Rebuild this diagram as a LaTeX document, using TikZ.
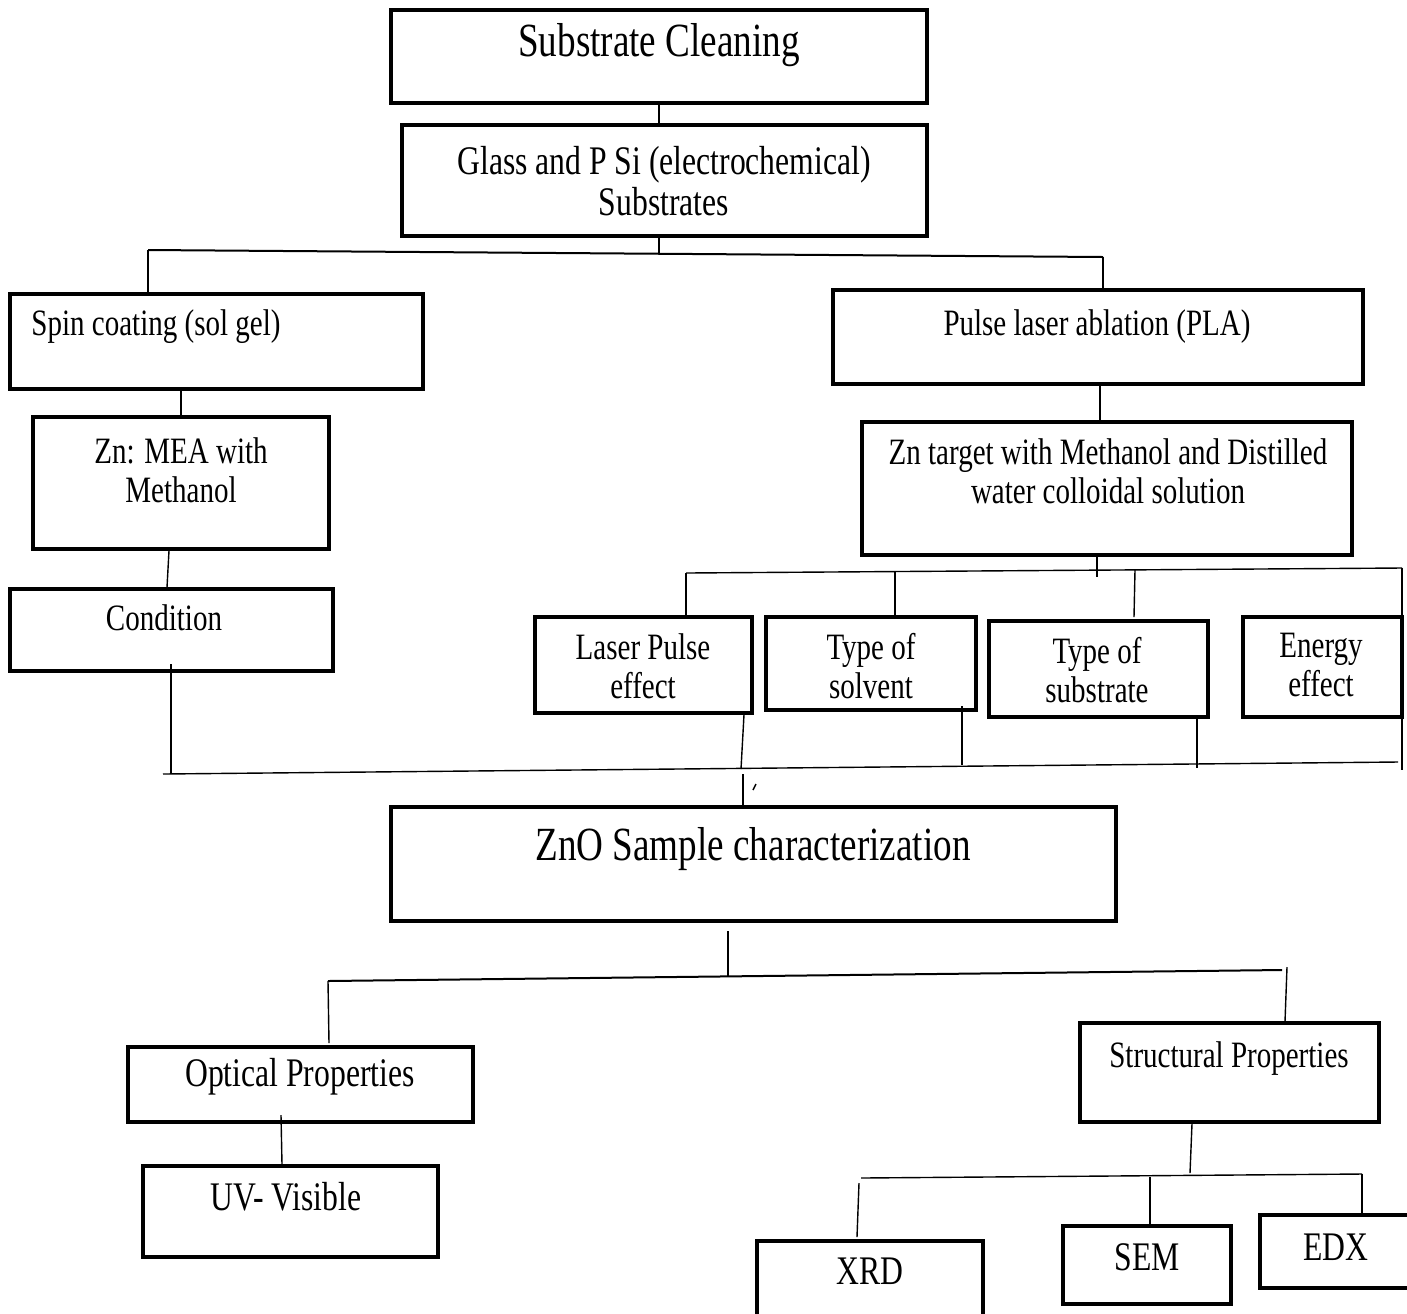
\documentclass[tikz,border=0pt]{standalone}
\usepackage{fontspec}
\setmainfont{Liberation Serif}[FakeStretch=0.78]
\usetikzlibrary{fit}
\tikzset{
  box/.style={draw, line width=1.6pt, inner sep=0pt},
  link/.style={line width=0.7pt},
  bus/.style={line width=1pt},
  txtl/.style={font=\fontsize{23.8}{28}\selectfont},
  txtm/.style={font=\fontsize{20.3}{20.5}\selectfont, align=center},
  txts/.style={font=\fontsize{18.6}{19.5}\selectfont, align=center}
}

\begin{document}
\begin{tikzpicture}[x=0.5pt, y=-0.5pt]
		\useasboundingbox (0,0) rectangle (1407,1313);
		\clip (0,0) rectangle (1407,1313);

		% preparation
		\node[box, fit={(391,10) (927,103)}] (clean) {};
		\node[txtl] (tclean) at (659,45) {Substrate Cleaning};
		\node[box, fit={(402,125) (927,236)}] (glass) {};
		\node[txtm] (tglass) at (664,181) {Glass and P Si (electrochemical)\\Substrates};
		\draw[link] (clean.south -| 659,0) -- (glass.north -| 659,0);

		\coordinate (b1l) at (148,250);
		\coordinate (b1r) at (1103,257);
		\draw[bus] (b1l) -- (b1r);
		\draw[link] (glass.south -| 659,0) -- (659,254);

		% spin coating branch
		\node[box, fit={(10,294) (423,389)}] (spin) {};
		\node[txts] (tspin) at (156,327) {Spin coating (sol gel)};
		\draw[link] (b1l) -- (b1l |- spin.north);
		\node[box, fit={(33,417) (329,549)}] (zn) {};
		\node[txts] (tzn) at (181,470) {Zn: MEA with\\Methanol};
		\draw[link] (spin.south -| 181,0) -- (zn.north -| 181,0);
		\node[box, fit={(10,589) (333,671)}] (cond) {};
		\node[txts] (tcond) at (164,618) {Condition};
		\draw[link] (zn.south -| 169,0) -- (cond.north -| 167,0);

		% laser ablation branch
		\node[box, fit={(833,290) (1363,384)}] (pla) {};
		\node[txts] (tpla) at (1097,327) {Pulse laser ablation (PLA)};
		\draw[link] (b1r) -- (b1r |- pla.north);
		\node[box, fit={(862,422) (1352,555)}] (zt) {};
		\node[txts] (tzt) at (1108,471) {Zn target with Methanol and Distilled\\water colloidal solution};
		\draw[link] (pla.south -| 1100,0) -- (zt.north -| 1100,0);

		\node[box, fit={(535,617) (752,713)}] (laser) {};
		\node[txts] (tlaser) at (643,666) {Laser Pulse\\effect};
		\node[box, fit={(766,617) (976,710)}] (solv) {};
		\node[txts] (tsolv) at (871,666) {Type of\\solvent};
		\node[box, fit={(989,621) (1208,717)}] (subs) {};
		\node[txts] (tsubs) at (1097,670) {Type of\\substrate};
		\node[box, fit={(1243,617) (1402,717)}] (energy) {};
		\node[txts] (tenergy) at (1321,665) {Energy\\effect};

		\coordinate (b2l) at (686,573);
		\coordinate (b2a) at (895,571);
		\coordinate (b2b) at (1135,570);
		\coordinate (b2r) at (1402,568);
		\draw[link] (b2l) -- (b2r);
		\draw[link] (zt.south -| 1097,0) -- (1097,577);
		\draw[link] (b2l) -- (b2l |- laser.north);
		\draw[link] (b2a) -- (b2a |- solv.north);
		\draw[link] (b2b) -- (1134,617);

		% gathering line
		\coordinate (b3l) at (163,774);
		\coordinate (b3r) at (1398,762);
		\draw[link] (b3l) -- (b3r);
		\draw[link] (b2r) -- (1402,770);
		\draw[link] (171,664) -- (171,774);
		\draw[link] (laser.south -| 744,0) -- (741,769);
		\draw[link] (962,706) -- (962,765);
		\draw[link] (subs.south -| 1197,0) -- (1197,768);

		% characterization
		\node[box, fit={(391,807) (1116,921)}] (zno) {};
		\node[txtl] (tzno) at (753,849) {ZnO Sample characterization};
		\draw[link] (743,774) -- (zno.north -| 743,0);
		\draw[link] (753,790) -- (756,784);

		\coordinate (b4l) at (328,981);
		\coordinate (b4r) at (1282,970);
		\draw[bus] (b4l) -- (b4r);
		\draw[link] (728,931) -- (728,976);

		\node[box, fit={(128,1047) (473,1122)}] (opt) {};
		\node[txtm] (topt) at (300,1077) {Optical Properties};
		\draw[link] (b4l) -- (329,1043);
		\node[box, fit={(143,1166) (438,1257)}] (uv) {};
		\node[txtm] (tuv) at (286,1197) {UV- Visible};
		\draw[link] (281,1115) -- (uv.north -| 282,0);

		\node[box, fit={(1080,1023) (1379,1122)}] (struct) {};
		\node[txts] (tstruct) at (1229,1059) {Structural Properties};
		\draw[link] (1287,967) -- (struct.north -| 1285,0);
		\draw[link] (struct.south -| 1192,0) -- (1190,1173);

		\coordinate (b5l) at (861,1178);
		\coordinate (b5r) at (1362,1174);
		\draw[link] (b5l) -- (b5r);

		\node[box, fit={(757,1241) (983,1330)}] (xrd) {};
		\node[txtm] (txrd) at (870,1271) {XRD};
		\node[box, fit={(1063,1226) (1231,1304)}] (sem) {};
		\node[txtm] (tsem) at (1147,1257) {SEM};
		\node[box, fit={(1260,1215) (1420,1288)}] (edx) {};
		\node[txtm] (tedx) at (1336,1247) {EDX};
		\draw[link] (859,1183) -- (857,1237);
		\draw[link] (1150,1177) -- (sem.north -| 1150,0);
		\draw[link] (b5r) -- (edx.north -| 1362,0);
	\end{tikzpicture}
\end{document}
